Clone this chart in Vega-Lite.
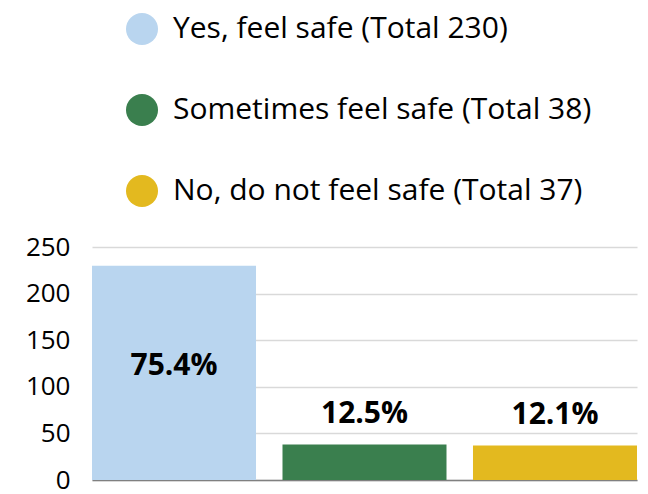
{
  "$schema": "https://vega.github.io/schema/vega-lite/v6.json",
  "autosize": "none",
  "width": 545,
  "height": 233,
  "padding": {"left": 92, "top": 247, "right": 11, "bottom": 14},
  "config": {"font": "Open Sans", "view": {"stroke": null}},
  "data": {
    "values": [
      {"category": "Yes, feel safe (Total 230)", "value": 230, "pct": "75.4%"},
      {"category": "Sometimes feel safe (Total 38)", "value": 38, "pct": "12.5%"},
      {"category": "No, do not feel safe (Total 37)", "value": 37, "pct": "12.1%"}
    ]
  },
  "encoding": {
    "x": {
      "field": "category",
      "type": "nominal",
      "sort": null,
      "scale": {"paddingInner": 0.139, "paddingOuter": 0},
      "axis": {"labels": false, "ticks": false, "title": null, "domain": true, "domainColor": "#808080", "domainWidth": 1.5}
    },
    "y": {
      "field": "value",
      "type": "quantitative",
      "scale": {"domain": [0, 250]},
      "axis": {"values": [0, 50, 100, 150, 200, 250], "title": null, "domain": false, "ticks": false, "labelFontSize": 26, "labelColor": "#000000", "labelPadding": 22, "gridColor": "#d9d9d9", "gridWidth": 1.5}
    }
  },
  "layer": [
    {
      "mark": {"type": "bar"},
      "encoding": {
        "color": {
          "field": "category",
          "type": "nominal",
          "sort": null,
          "scale": {"range": ["#B9D5EF", "#3A7F4E", "#E3B91F"]},
          "legend": {
            "orient": "none",
            "legendX": 34,
            "legendY": -234,
            "title": null,
            "symbolType": "circle",
            "symbolSize": 1024,
            "symbolStrokeWidth": 0,
            "labelFontSize": 30,
            "labelColor": "#000000",
            "labelOffset": 15,
            "rowPadding": 49,
            "labelLimit": 600
          }
        }
      }
    },
    {
      "transform": [{"filter": "datum.value > 100"}],
      "mark": {"type": "text", "fontSize": 30, "fontWeight": "bold", "baseline": "middle", "dy": 100, "color": "#000000"},
      "encoding": {"text": {"field": "pct"}}
    },
    {
      "transform": [{"filter": "datum.value <= 100"}],
      "mark": {"type": "text", "fontSize": 30, "fontWeight": "bold", "baseline": "middle", "dy": -31, "color": "#000000"},
      "encoding": {"text": {"field": "pct"}}
    }
  ]
}
